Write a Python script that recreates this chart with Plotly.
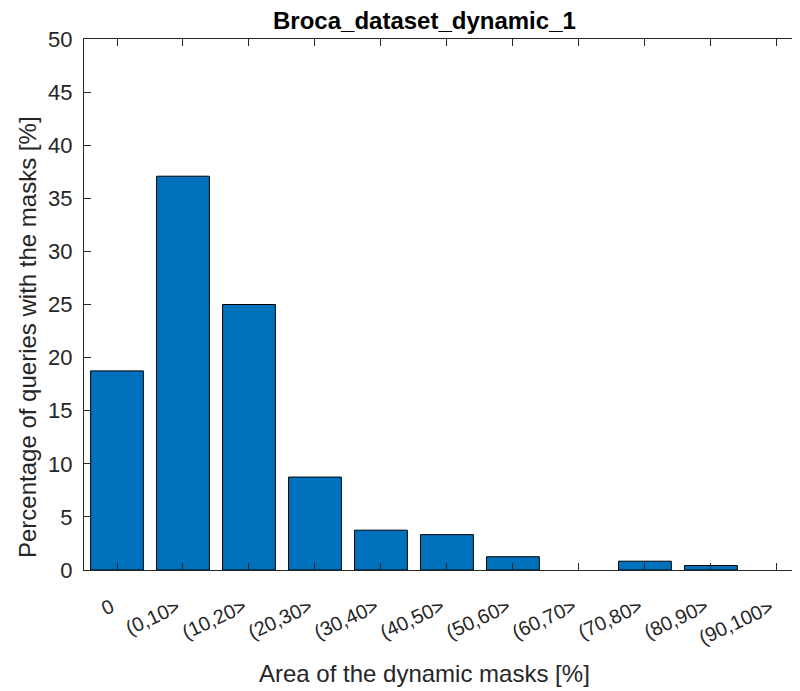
import plotly.graph_objects as go

categories = ["0", "(0,10>", "(10,20>", "(20,30>", "(30,40>", "(40,50>",
              "(50,60>", "(60,70>", "(70,80>", "(80,90>", "(90,100>"]
percentages = [18.75, 37.08, 25.0, 8.75, 3.75, 3.33, 1.25, 0.0, 0.83, 0.42, 0.0]
y_ticks = [0, 5, 10, 15, 20, 25, 30, 35, 40, 45, 50]

title_text = "Broca_dataset_dynamic_1"
x_title = "Area of the dynamic masks [%]"
y_title = "Percentage of queries with the masks [%]"

FONT = "Liberation Sans, Arial, Helvetica, sans-serif"
AX = "#262626"

# page body margin offset (figure sits 8px inside the window)
OFF = 8
# plot area in screen pixels
SL, SR, ST, SB = 84, 800, 39, 570
W, H = 800 - OFF, 691 - OFF
L, R, T, B = SL - OFF, SR - OFF, ST - OFF, SB - OFF


def px_x(p):
    return (p - SL) / (SR - SL)


def px_y(p):
    return (SB - p) / (SB - ST)


fig = go.Figure()
fig.add_trace(go.Bar(
    x=list(range(len(categories))),
    y=percentages,
    width=0.8,
    marker=dict(color="#0072BD",
                line=dict(color="#000000",
                          width=[1 if v > 0 else 0 for v in percentages])),
))

annotations = [
    dict(text="<b>" + title_text + "</b>", x=px_x(424), y=px_y(20),
         xref="paper", yref="paper", xanchor="center", yanchor="middle",
         showarrow=False, font=dict(size=24, color="#000000", family=FONT)),
    dict(text=x_title, x=px_x(424), y=px_y(673),
         xref="paper", yref="paper", xanchor="center", yanchor="middle",
         showarrow=False, font=dict(size=24, color=AX, family=FONT)),
    dict(text=y_title, x=px_x(27), y=px_y(337), textangle=-90,
         xref="paper", yref="paper", xanchor="center", yanchor="middle",
         showarrow=False, font=dict(size=24, color=AX, family=FONT)),
]
# rotated category labels
for i, lab in enumerate(categories):
    annotations.append(dict(
        text=lab, x=i, y=px_y(592), xref="x", yref="paper",
        xanchor="right", yanchor="top", textangle=-25, xshift=3,
        showarrow=False, font=dict(size=20, color=AX, family=FONT),
    ))

fig.update_layout(
    width=W, height=H,
    margin=dict(l=L, r=W - R, t=T, b=H - B, pad=0, autoexpand=False),
    paper_bgcolor="white", plot_bgcolor="white",
    showlegend=False,
    font=dict(family=FONT, color=AX),
    xaxis=dict(
        range=[-0.5, 10.35],
        automargin=False,
        tickmode="array",
        tickvals=list(range(len(categories))),
        showticklabels=False,
        ticks="inside", ticklen=7, tickwidth=1, tickcolor=AX,
        showline=True, linecolor=AX, linewidth=1, mirror="ticks",
        showgrid=False, zeroline=False,
    ),
    yaxis=dict(
        range=[0, 50],
        automargin=False,
        tickmode="array",
        tickvals=y_ticks,
        ticktext=[str(v) for v in y_ticks],
        ticks="inside", ticklen=7, tickwidth=1, tickcolor=AX,
        showline=True, linecolor=AX, linewidth=1, mirror=False,
        showgrid=False, zeroline=False,
        tickfont=dict(size=22, color=AX, family=FONT),
        ticklabelstandoff=6,
    ),
    annotations=annotations,
)

fig.write_html("out.html")
